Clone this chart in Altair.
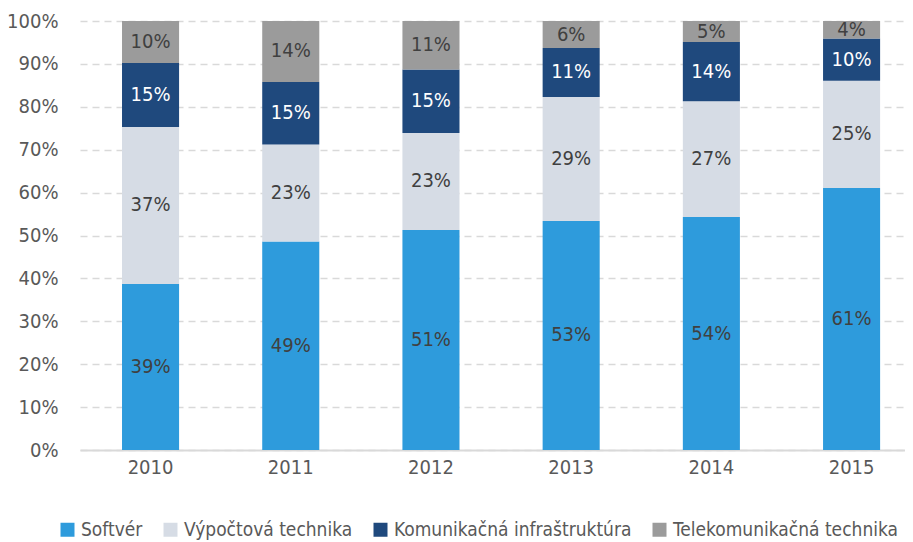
import altair as alt
import pandas as pd

years = ["2010", "2011", "2012", "2013", "2014", "2015"]
series = ["Softvér", "Výpočtová technika", "Komunikačná infraštruktúra", "Telekomunikačná technika"]
colors = ["#2E9BDC", "#D6DCE5", "#1F497D", "#9B9B9B"]
label_colors = ["#404040", "#404040", "#FFFFFF", "#404040"]

softver = [38.7, 48.6, 51.3, 53.4, 54.3, 61.1]
vypoctova = [36.6, 22.6, 22.6, 28.9, 27.0, 25.0]
komunikacna = [14.9, 14.6, 14.8, 11.4, 13.8, 9.8]
telekom = [9.8, 14.2, 11.3, 6.3, 4.9, 4.1]

values = [softver, vypoctova, komunikacna, telekom]
rows = []
for si, s in enumerate(series):
    for yi, y in enumerate(years):
        rows.append({"year": y, "series": s, "order": si, "value": values[si][yi],
                     "lcolor": label_colors[si]})
df = pd.DataFrame(rows)

FONT = "'DejaVu Sans Condensed', 'Liberation Sans', sans-serif"
FS = 20
LFS = 19

base = alt.Chart(df).transform_stack(
    stack="value", groupby=["year"], as_=["v0", "v1"],
    sort=[alt.SortField("order", order="ascending")], offset="normalize"
).transform_calculate(
    mid="(datum.v0 + datum.v1) / 2", frac="datum.v1 - datum.v0"
)

xenc = alt.X("year:N", title=None,
             scale=alt.Scale(paddingInner=0.593, paddingOuter=0.2386, align=0.628),
             axis=alt.Axis(labelAngle=0, ticks=False, labelPadding=7,
                           domainColor="#D9D9D9", domainWidth=2,
                           labelFont=FONT, labelFontSize=FS, labelColor="#595959"))

bars = base.mark_bar().encode(
    x=xenc,
    y=alt.Y("v0:Q", title=None,
            scale=alt.Scale(domain=[0, 1], nice=False),
            axis=alt.Axis(format=".0%", values=[i / 10 for i in range(11)],
                          ticks=False, domain=False, labelPadding=22,
                          grid=True, gridColor="#D9D9D9", gridDash=[7, 5], gridWidth=1.5,
                          labelFont=FONT, labelFontSize=FS, labelColor="#595959")),
    y2="v1:Q",
    color=alt.Color("series:N", scale=alt.Scale(domain=series, range=colors),
                    legend=alt.Legend(title=None, orient="none", direction="horizontal",
                                      legendX=-22, legendY=499, padding=0,
                                      symbolType="square", symbolSize=196,
                                      symbolStrokeWidth=0,
                                      labelFont=FONT, labelFontSize=LFS, labelColor="#595959",
                                      labelOffset=4, columnPadding=18,
                                      labelLimit=400)),
    order=alt.Order("order:Q"),
)

labels = base.mark_text(font=FONT, fontSize=FS).encode(
    x="year:N",
    y=alt.Y("mid:Q"),
    text=alt.Text("frac:Q", format=".0%"),
    color=alt.Color("lcolor:N", scale=None),
)

chart = (bars + labels).properties(
    width=825, height=429,
    padding={"left": 72, "top": 13, "right": 0, "bottom": 90},
    autosize=alt.AutoSizeParams(type="none"),
).configure_view(stroke=None)

chart.save("out.html", embed_options={"renderer": "svg", "actions": False})
